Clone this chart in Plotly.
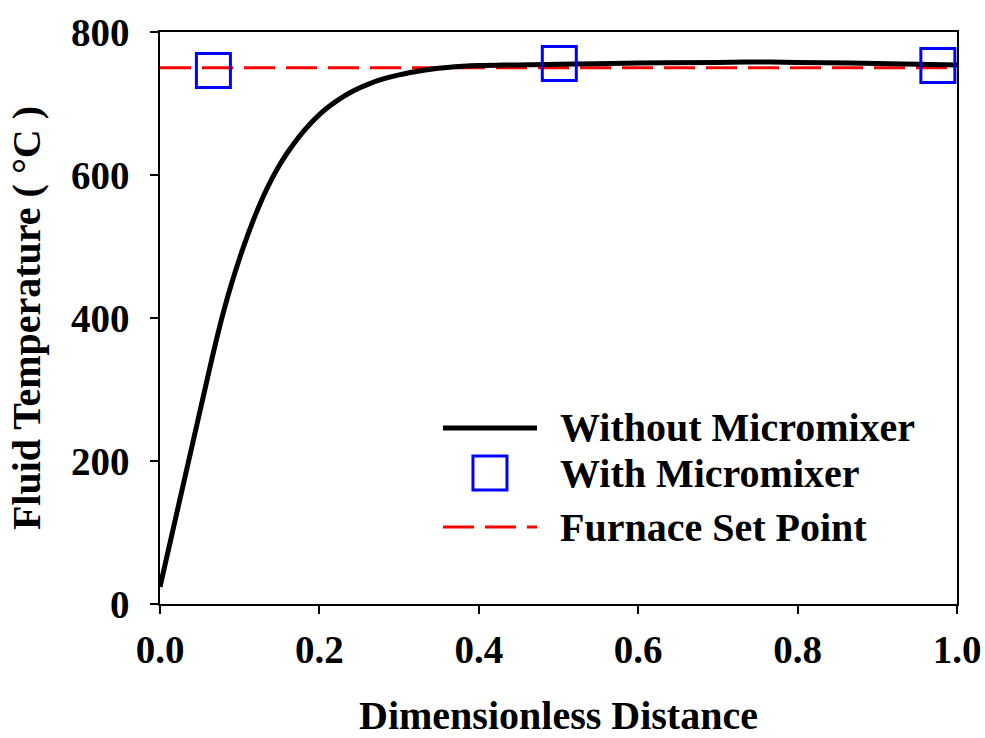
import plotly.graph_objects as go

# Without micromixer (continuous curve)
dist_no_mixer = [0.0, 0.02, 0.04, 0.06, 0.07, 0.08, 0.09, 0.10, 0.11, 0.12,
                 0.13, 0.14, 0.15, 0.16, 0.17, 0.18, 0.19, 0.20, 0.21, 0.22,
                 0.23, 0.24, 0.25, 0.26, 0.28, 0.30, 0.32, 0.34, 0.36, 0.38,
                 0.40, 0.45, 0.50, 0.60, 0.70, 0.75, 0.80, 0.90, 1.0]
temp_no_mixer = [24, 122, 220, 318, 366, 410, 449, 484, 516, 545,
                 571, 594, 614, 631.5, 647, 661, 673.5, 684.5, 694, 702.3,
                 709.6, 716, 721.6, 726.5, 734.3, 740, 744.3, 747.8, 750.3, 752,
                 753, 754, 755, 756.5, 757.5, 758, 757.5, 756, 754]

# With micromixer (markers)
dist_mixer = [0.067, 0.501, 0.976]
temp_mixer = [746, 756, 753]

# Furnace set point
dist_set = [0.0, 1.0]
temp_set = [750, 750]

x_ticks = [0.0, 0.2, 0.4, 0.6, 0.8, 1.0]
x_tick_labels = ["0.0", "0.2", "0.4", "0.6", "0.8", "1.0"]
y_ticks = [0, 200, 400, 600, 800]
y_tick_labels = ["0", "200", "400", "600", "800"]

legend_names = ["Without Micromixer", "With Micromixer", "Furnace Set Point"]

FONT = "Liberation Serif, Times New Roman, serif"
DASH = "31px,11px"

fig = go.Figure()
fig.add_trace(go.Scatter(x=dist_set, y=temp_set, mode="lines",
                         line=dict(color="#ff0000", width=3, dash=DASH),
                         name=legend_names[2], showlegend=False))
fig.add_trace(go.Scatter(x=dist_no_mixer, y=temp_no_mixer, mode="lines",
                         line=dict(color="black", width=5, shape="spline", smoothing=1.0),
                         name=legend_names[0], showlegend=False))
fig.add_trace(go.Scatter(x=dist_mixer, y=temp_mixer, mode="markers",
                         marker=dict(symbol="square-open", size=34, color="#0000ff",
                                     line=dict(width=3, color="#0000ff")),
                         name=legend_names[1], showlegend=False))

# manual legend (paper coordinates)
ly = [0.3077, 0.229, 0.1346]
shapes = [
    dict(type="line", xref="paper", yref="paper", x0=0.355, x1=0.473, y0=ly[0], y1=ly[0],
         line=dict(color="black", width=5)),
    dict(type="rect", xref="paper", yref="paper", xsizemode="pixel", ysizemode="pixel",
         xanchor=0.414, yanchor=ly[1], x0=-17, x1=17, y0=-17, y1=17,
         line=dict(color="#0000ff", width=3)),
    dict(type="line", xref="paper", yref="paper", x0=0.355, x1=0.473, y0=ly[2], y1=ly[2],
         line=dict(color="#ff0000", width=3, dash=DASH)),
]
annotations = [
    dict(text="<b>%s</b>" % legend_names[i], xref="paper", yref="paper", x=0.499, y=ly[i],
         xanchor="left", yanchor="middle", showarrow=False,
         font=dict(family=FONT, size=40, color="black"))
    for i in range(3)
]

axis_common = dict(showline=True, linecolor="black", linewidth=1.5, mirror=True,
                   ticks="outside", ticklen=8, tickwidth=1.5, tickcolor="black",
                   showgrid=False, zeroline=False, automargin=False,
                   tickfont=dict(family=FONT, size=39, color="black"))

fig.update_layout(
    width=985, height=738,
    margin=dict(l=160, r=28, t=32, b=134),
    plot_bgcolor="white", paper_bgcolor="white",
    shapes=shapes, annotations=annotations,
    showlegend=False,
    xaxis=dict(range=[0, 1], tickvals=x_ticks, ticktext=["<b>%s</b>" % t for t in x_tick_labels],
               ticklabelstandoff=2,
               title=dict(text="<b>Dimensionless Distance</b>", standoff=37,
                          font=dict(family=FONT, size=40, color="black")),
               **axis_common),
    yaxis=dict(range=[0, 800], tickvals=y_ticks, ticktext=["<b>%s</b>" % t for t in y_tick_labels],
               ticklabelstandoff=13,
               title=dict(text="<b>Fluid Temperature ( °C )</b>", standoff=18,
                          font=dict(family=FONT, size=40, color="black")),
               **axis_common),
)

fig.write_html("out.html")
